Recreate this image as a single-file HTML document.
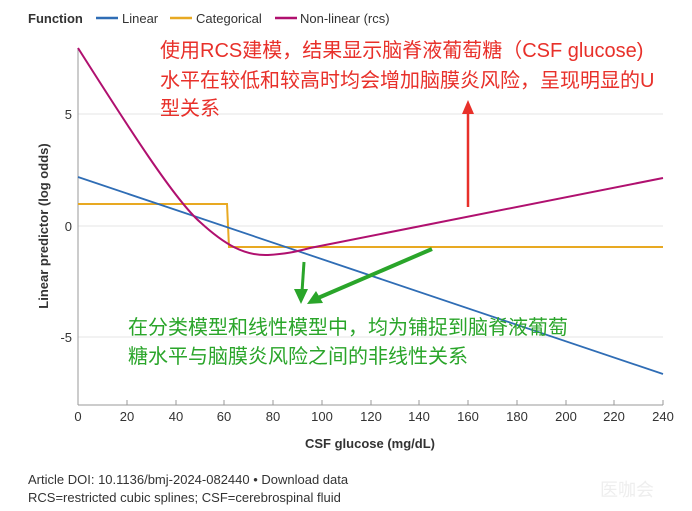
<!DOCTYPE html>
<html><head><meta charset="utf-8"><style>
html,body{margin:0;padding:0;background:#fff;}
svg{display:block;font-family:"Liberation Sans","Noto Sans CJK SC",sans-serif;}
</style></head><body>
<svg width="692" height="511" viewBox="0 0 692 511" xmlns="http://www.w3.org/2000/svg">
<rect width="692" height="511" fill="#fff"/>
<text x="28" y="23" font-size="13" font-weight="bold" fill="#333">Function</text>
<line x1="96" y1="18" x2="118" y2="18" stroke="#2f6db5" stroke-width="2.5"/>
<text x="122" y="23" font-size="13" fill="#333">Linear</text>
<line x1="170" y1="18" x2="192" y2="18" stroke="#e8a922" stroke-width="2.5"/>
<text x="196" y="23" font-size="13" fill="#333">Categorical</text>
<line x1="275" y1="18" x2="297" y2="18" stroke="#b0106f" stroke-width="2.5"/>
<text x="300" y="23" font-size="13" fill="#333">Non-linear (rcs)</text>
<line x1="78" y1="114" x2="663" y2="114" stroke="#e6e6e6"/>
<line x1="78" y1="226" x2="663" y2="226" stroke="#e6e6e6"/>
<line x1="78" y1="337" x2="663" y2="337" stroke="#e6e6e6"/>
<line x1="78" y1="48" x2="78" y2="405" stroke="#999"/>
<line x1="78" y1="405" x2="663" y2="405" stroke="#999"/>
<g stroke="#999">
<line x1="78" y1="405" x2="78" y2="400"/><line x1="127" y1="405" x2="127" y2="400"/><line x1="176" y1="405" x2="176" y2="400"/><line x1="224" y1="405" x2="224" y2="400"/><line x1="273" y1="405" x2="273" y2="400"/><line x1="322" y1="405" x2="322" y2="400"/><line x1="371" y1="405" x2="371" y2="400"/><line x1="419" y1="405" x2="419" y2="400"/><line x1="468" y1="405" x2="468" y2="400"/><line x1="517" y1="405" x2="517" y2="400"/><line x1="566" y1="405" x2="566" y2="400"/><line x1="614" y1="405" x2="614" y2="400"/><line x1="663" y1="405" x2="663" y2="400"/>
</g>
<g font-size="13" fill="#333" text-anchor="middle">
<text x="78" y="421">0</text><text x="127" y="421">20</text><text x="176" y="421">40</text><text x="224" y="421">60</text><text x="273" y="421">80</text><text x="322" y="421">100</text><text x="371" y="421">120</text><text x="419" y="421">140</text><text x="468" y="421">160</text><text x="517" y="421">180</text><text x="566" y="421">200</text><text x="614" y="421">220</text><text x="663" y="421">240</text>
</g>
<g font-size="13" fill="#333" text-anchor="end">
<text x="72" y="119">5</text><text x="72" y="231">0</text><text x="72" y="342">-5</text>
</g>
<text x="370" y="448" font-size="13" font-weight="bold" fill="#333" text-anchor="middle">CSF glucose (mg/dL)</text>
<text transform="translate(48,226) rotate(-90)" font-size="13" font-weight="bold" fill="#333" text-anchor="middle">Linear predictor (log odds)</text>
<polyline points="78,204 227,204 229,247 663,247" fill="none" stroke="#e8a922" stroke-width="2"/>
<line x1="78" y1="177" x2="663" y2="374" stroke="#2f6db5" stroke-width="1.8"/>
<path d="M78,48 C130,130 175,200 200,222 C225,245 245,256 268,255 C285,254 295,252 310,248 L663,178" fill="none" stroke="#b0106f" stroke-width="2"/>
<g font-size="20" fill="#e8302a">
<text x="160" y="57">使用RCS建模，结果显示脑脊液葡萄糖（CSF glucose)</text>
<text x="160" y="87">水平在较低和较高时均会增加脑膜炎风险，呈现明显的U</text>
<text x="160" y="115">型关系</text>
</g>
<line x1="468" y1="207" x2="468" y2="112" stroke="#e8302a" stroke-width="2.5"/>
<polygon points="468,100 462,114 474,114" fill="#e8302a"/>
<line x1="304" y1="262" x2="302" y2="292" stroke="#2aa52a" stroke-width="3"/>
<polygon points="301,304 294,289 308,289" fill="#2aa52a"/>
<line x1="432" y1="249" x2="318" y2="298" stroke="#2aa52a" stroke-width="4"/>
<polygon points="307,304 316,291 323,303" fill="#2aa52a"/>
<g font-size="20" fill="#2aa52a">
<text x="128" y="334">在分类模型和线性模型中，均为铺捉到脑脊液葡萄</text>
<text x="128" y="363">糖水平与脑膜炎风险之间的非线性关系</text>
</g>
<text x="28" y="484" font-size="13" fill="#333">Article DOI: 10.1136/bmj-2024-082440 • Download data</text>
<text x="28" y="502" font-size="13" fill="#333">RCS=restricted cubic splines; CSF=cerebrospinal fluid</text>
<text x="600" y="496" font-size="18" fill="#eee">医咖会</text>
</svg>
</body></html>
